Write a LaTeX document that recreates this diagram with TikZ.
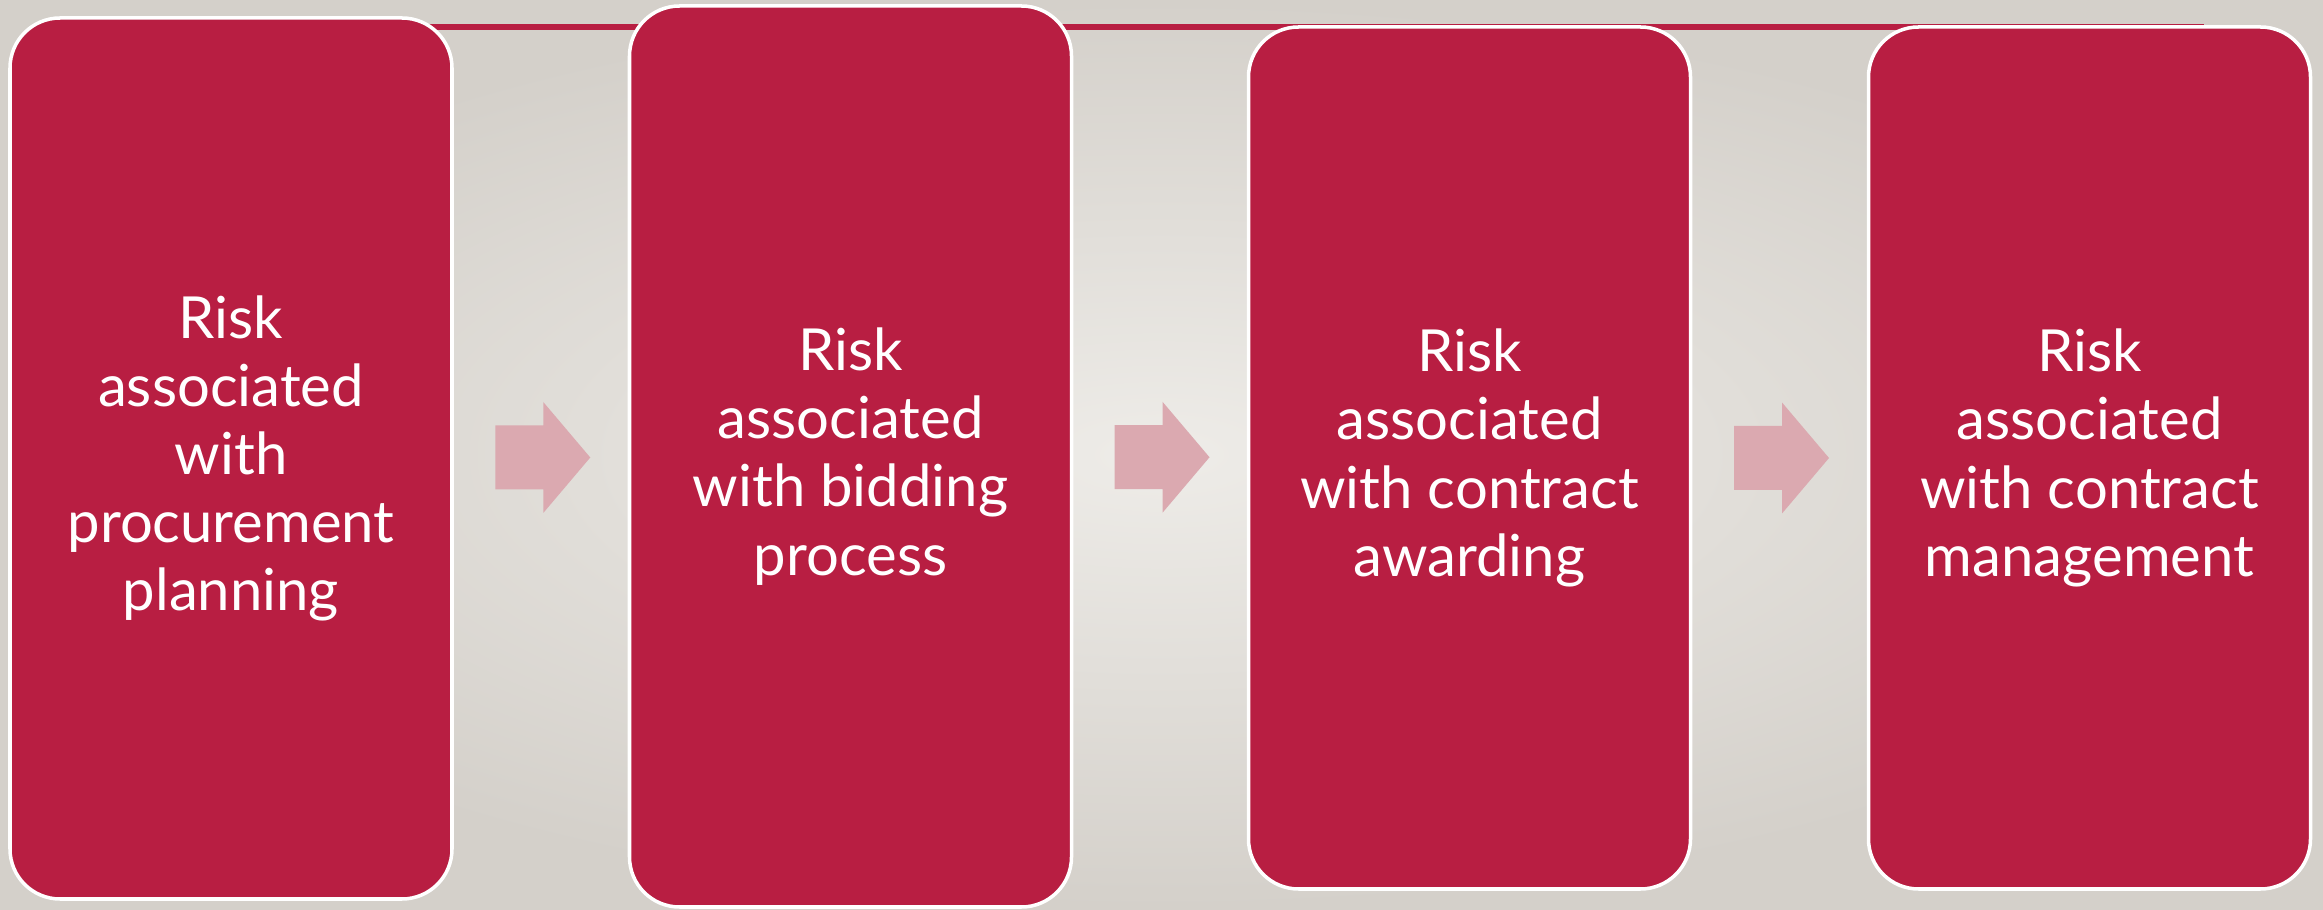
\documentclass[tikz,border=0pt]{standalone}
\usepackage{fontspec}
\setmainfont{Lato}
\usetikzlibrary{calc,positioning}
\definecolor{riskred}{RGB}{184,30,66}
\definecolor{flowpink}{RGB}{219,169,176}
\definecolor{bginner}{RGB}{238,236,232}
\definecolor{bgouter}{RGB}{212,208,202}

\begin{document}
\begin{tikzpicture}[
	stage/.style={rectangle, rounded corners=0.5cm, fill=riskred, draw=white,
		line width=1pt, minimum width=4.42cm, inner sep=0pt, text=white,
		align=center, font=\fontsize{16.5}{19.4}\selectfont},
	flow/.style={fill=flowpink, draw=none},
	topline/.style={riskred, line width=1.8pt}]
	\shade[inner color=bginner, outer color=bgouter] (0,0) rectangle (23.23,9.09);
	\useasboundingbox (0,0) rectangle (23.23,9.09);
	\draw[topline] (3,8.82) -- (22.04,8.82);

	\node[stage, minimum height=8.81cm] (s1) at (2.31,4.505) {Risk\\associated\\with\\procurement\\planning};
	\node[stage, minimum height=9.01cm] (s2) at (8.505,4.525) {Risk\\associated\\with bidding\\process};
	\node[stage, minimum height=8.62cm] (s3) at (14.695,4.51) {Risk\\associated\\with contract\\awarding};
	\node[stage, minimum height=8.62cm] (s4) at (20.895,4.51) {Risk\\associated\\with contract\\management};

	\foreach \a/\b in {s1/s2,s2/s3,s3/s4}{
		\coordinate (f-\a) at ($(\a.east)!0.5!(\b.west)+(0.02,0)$);
		\fill[flow, shift={(f-\a)}] (-0.475,-0.32) -- (0.005,-0.32) -- (0.005,-0.555)
			-- (0.475,0) -- (0.005,0.555) -- (0.005,0.32) -- (-0.475,0.32) -- cycle;
	}
\end{tikzpicture}
\end{document}
